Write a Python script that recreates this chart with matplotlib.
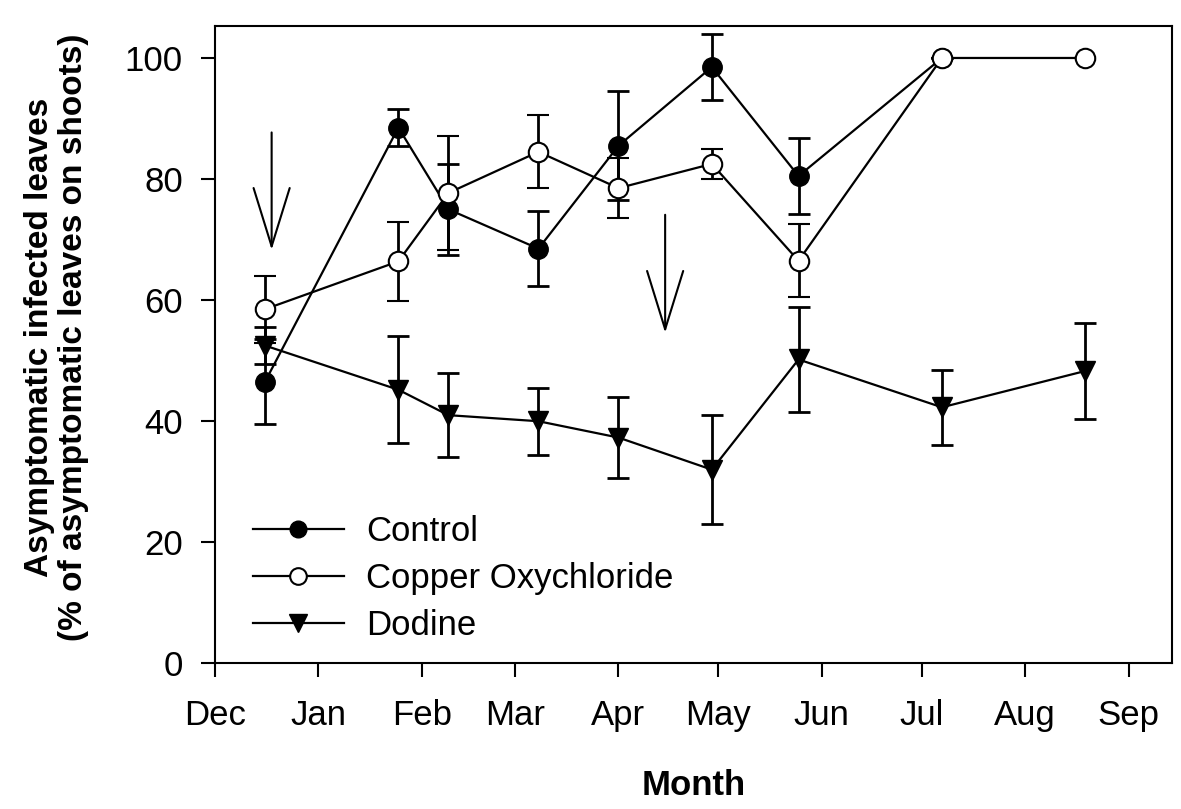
import matplotlib
matplotlib.use('Agg')
import matplotlib.pyplot as plt
from matplotlib.lines import Line2D
import numpy as np

plt.rcParams['font.family'] = ['Liberation Sans', 'DejaVu Sans']

# days counted from 1 Dec
month_days = [0, 31, 62, 90, 121, 151, 182, 212, 243, 274]
month_names = ['Dec', 'Jan', 'Feb', 'Mar', 'Apr', 'May', 'Jun', 'Jul', 'Aug', 'Sep']

days_ctrl = [15, 55, 70, 97, 121, 149, 175, 218]
ctrl = [46.5, 88.5, 75, 68.5, 85.5, 98.5, 80.5, 100]
ctrl_err = [7, 3, 7.5, 6.2, 9, 5.5, 6.2, 0]

days_cu = [15, 55, 70, 97, 121, 149, 175, 218, 261]
cu = [58.5, 66.4, 77.7, 84.5, 78.5, 82.5, 66.5, 100, 100]
cu_err = [5.5, 6.5, 9.4, 6, 5, 2.5, 6, 0, 0]

days_dod = [15, 55, 70, 97, 121, 149, 175, 218, 261]
dod = [52.5, 45.2, 41, 40, 37.3, 32, 50.2, 42.3, 48.3]
dod_err = [3, 8.8, 6.9, 5.5, 6.7, 9, 8.6, 6.2, 8]

# spray arrows
arrow_days = [17, 135]
arrow_top = [87.7, 74.1]
arrow_tip = [68.3, 54.6]

fig = plt.figure(figsize=(11.81, 8.09), dpi=100)
ax = fig.add_axes([0.182, 0.18, 0.8104, 0.788])

ax.errorbar(days_ctrl, ctrl, yerr=ctrl_err, color='black', marker='o', ms=14,
            mfc='black', mec='black', lw=1.6, elinewidth=2, capsize=8, capthick=2,
            zorder=3)
ax.errorbar(days_dod, dod, yerr=dod_err, color='black', marker='v', ms=15,
            mfc='black', mec='black', lw=1.6, elinewidth=2, capsize=8, capthick=2,
            zorder=3)
ax.errorbar(days_cu, cu, yerr=cu_err, color='black', marker='o', ms=14,
            mfc='white', mec='black', mew=1.5, lw=1.6, elinewidth=2, capsize=8,
            capthick=2, zorder=4)

for x, y0, y1 in zip(arrow_days, arrow_top, arrow_tip):
    ax.annotate('', xy=(x, y1), xytext=(x, y0),
                arrowprops=dict(arrowstyle='->, head_length=42, head_width=13',
                                mutation_scale=1, lw=1.5, color='black',
                                shrinkA=0, shrinkB=0))

ax.set_xlim(0, 287)
ax.set_ylim(0, 105.3)
ax.set_xticks(month_days)
ax.set_xticklabels(month_names)
ax.set_yticks(np.arange(0, 101, 20))

for s in ax.spines.values():
    s.set_linewidth(1.5)
ax.tick_params(axis='both', direction='out', length=10, width=1.5,
               labelsize=25, top=False, right=False)
ax.tick_params(axis='y', pad=13)
ax.tick_params(axis='x', pad=16)

ax.set_xlabel('Month', fontsize=25, fontweight='bold')
ax.xaxis.set_label_coords(0.5, -0.165)
ax.set_ylabel('Asymptomatic infected leaves\n(% of asymptomatic leaves on shoots)',
              fontsize=24, fontweight='bold', linespacing=1.1)
ax.yaxis.set_label_coords(-0.132, 0.512)

handles = [
    Line2D([], [], color='black', lw=1.6, marker='o', ms=12, mfc='black', mec='black'),
    Line2D([], [], color='black', lw=1.6, marker='o', ms=12, mfc='white', mec='black', mew=1.5),
    Line2D([], [], color='black', lw=1.6, marker='v', ms=13, mfc='black', mec='black'),
]
labels = ['Control', 'Copper Oxychloride', 'Dodine']
ax.legend(handles, labels, loc='upper left',
          bbox_to_anchor=(0.04, 0.232), frameon=False, fontsize=25,
          handlelength=2.6, handletextpad=0.65, labelspacing=0.4,
          borderpad=0, borderaxespad=0)

fig.savefig('out.png', dpi=100)
